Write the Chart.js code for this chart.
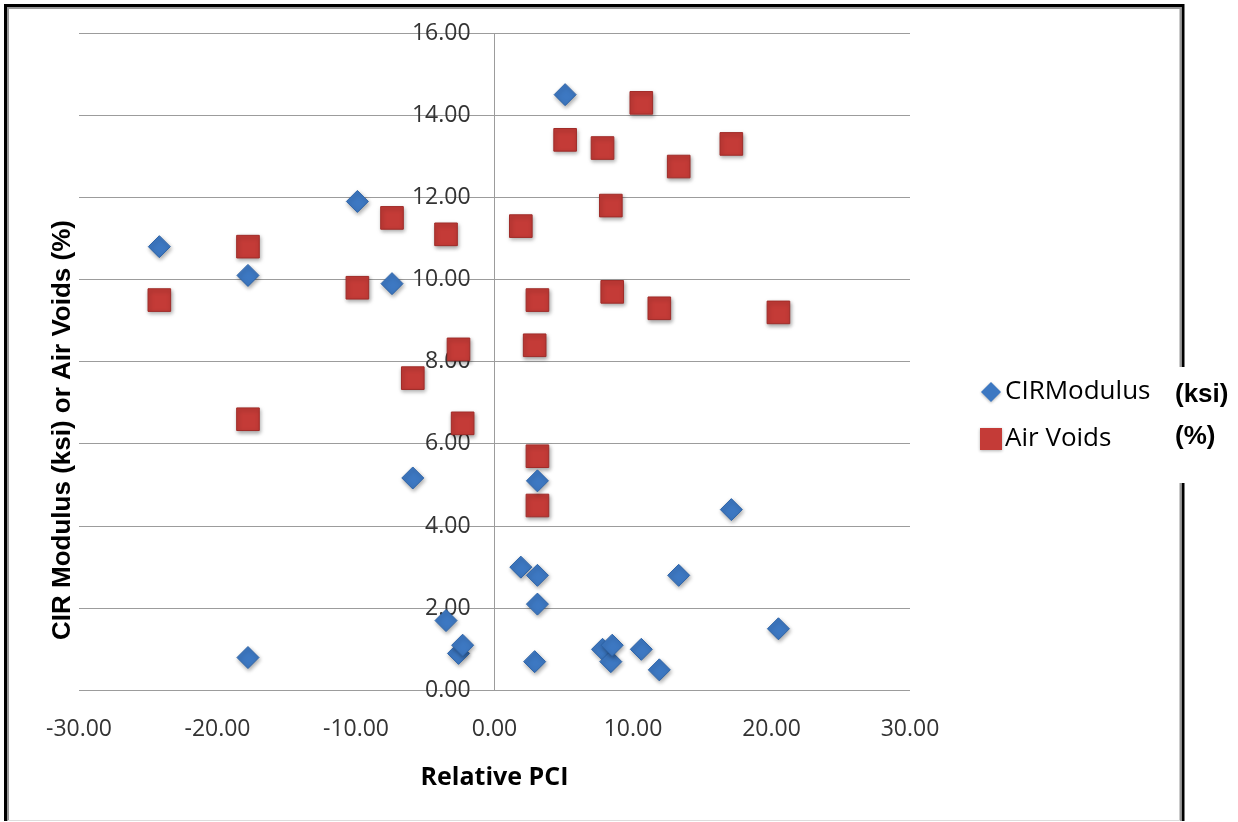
<!DOCTYPE html>
<html>
<head>
<meta charset="utf-8">
<script src="https://cdn.jsdelivr.net/npm/chart.js@4.4.1/dist/chart.umd.min.js"></script>
<style>
  body { margin: 0; background: #fff; }
  #wrap { width: 1238px; height: 822px; position: relative; }
</style>
</head>
<body>
<div id="wrap"><canvas id="pciChart"></canvas></div>
<script>
// Relative PCI (x) shared by both series
var relativePCI = [-24.2, -17.8, -17.8, -9.9, -7.4, -5.9, -3.5, -2.6, -2.3, 1.9, 2.9, 3.1, 3.1, 3.1, 5.1, 7.8, 8.4, 8.5, 10.6, 11.9, 13.3, 17.1, 20.5];
// CIR modulus (ksi)
var cirModulus = [10.8, 10.1, 0.8, 11.9, 9.9, 5.17, 1.7, 0.9, 1.1, 3.0, 0.7, 5.1, 2.8, 2.1, 14.5, 1.0, 0.7, 1.1, 1.0, 0.5, 2.8, 4.4, 1.5];
// Air voids (%)
var airVoids = [9.5, 10.8, 6.6, 9.8, 11.5, 7.6, 11.1, 8.3, 6.5, 11.3, 8.4, 9.5, 5.7, 4.5, 13.4, 13.2, 11.8, 9.7, 14.3, 9.3, 12.75, 13.3, 9.2];

var seriesNames = ["CIRModulus", "Air Voids"];
var unitLabels = ["(ksi)", "(%)"];
var xTitle = "Relative PCI";
var yTitle = "CIR Modulus (ksi) or Air Voids (%)";

function toPoints(ys) {
  return relativePCI.map(function (x, i) { return { x: x, y: ys[i] }; });
}

var blue = "#3D78C2", red = "#C43B37";

// frame, axis titles, legend and unit notes drawn on the canvas
var decorPlugin = {
  id: "decor",
  beforeDatasetsDraw: function (chart) {
    var ctx = chart.ctx;
    ctx.save();
    ctx.shadowColor = "rgba(0,0,0,0.35)";
    ctx.shadowBlur = 4;
    ctx.shadowOffsetX = 1;
    ctx.shadowOffsetY = 2;
  },
  afterDatasetsDraw: function (chart) {
    chart.ctx.restore();
  },
  afterDraw: function (chart) {
    var ctx = chart.ctx;
    var area = chart.chartArea;
    ctx.save();
    // outer frame
    ctx.strokeStyle = "#000";
    ctx.lineWidth = 3;
    ctx.beginPath();
    ctx.moveTo(5.5, 821);
    ctx.lineTo(5.5, 5.5);
    ctx.lineTo(1183, 5.5);
    ctx.lineTo(1183, 821);
    ctx.stroke();
    ctx.strokeStyle = "#999";
    ctx.lineWidth = 2;
    ctx.beginPath();
    ctx.moveTo(8, 821);
    ctx.lineTo(8, 8);
    ctx.lineTo(1180.5, 8);
    ctx.lineTo(1180.5, 821);
    ctx.stroke();
    ctx.strokeStyle = "#ddd";
    ctx.lineWidth = 1;
    ctx.beginPath();
    ctx.moveTo(8, 820.5);
    ctx.lineTo(1180, 820.5);
    ctx.stroke();

    // x title
    ctx.fillStyle = "#000";
    ctx.textAlign = "center";
    ctx.textBaseline = "middle";
    ctx.font = "bold 25px 'Open Sans', sans-serif";
    ctx.fillText(xTitle, (area.left + area.right) / 2, 778);

    // y title
    ctx.font = "bold 26px 'Liberation Sans', Arial, sans-serif";
    ctx.translate(63, 430);
    ctx.rotate(-Math.PI / 2);
    ctx.fillText(yTitle, 0, 0);
    ctx.setTransform(1, 0, 0, 1, 0, 0);

    // legend
    var lx = 991, rows = [392, 439];
    ctx.shadowColor = "rgba(0,0,0,0.3)";
    ctx.shadowBlur = 3;
    ctx.shadowOffsetY = 1;
    ctx.fillStyle = blue;
    ctx.beginPath();
    ctx.moveTo(lx, rows[0] - 10);
    ctx.lineTo(lx + 10, rows[0]);
    ctx.lineTo(lx, rows[0] + 10);
    ctx.lineTo(lx - 10, rows[0]);
    ctx.closePath();
    ctx.fill();
    ctx.fillStyle = red;
    ctx.fillRect(lx - 11, rows[1] - 11, 22, 22);
    ctx.shadowColor = "transparent";
    ctx.fillStyle = "#000";
    ctx.font = "26px 'Open Sans', sans-serif";
    ctx.textAlign = "left";
    ctx.fillText(seriesNames[0], 1005, rows[0]);
    ctx.fillText(seriesNames[1], 1005, rows[1]);

    // unit notes over the frame
    ctx.fillStyle = "#fff";
    ctx.fillRect(1168, 367, 70, 116);
    ctx.fillStyle = "#000";
    ctx.font = "bold 26px 'Liberation Sans', Arial, sans-serif";
    ctx.fillText(unitLabels[0], 1175, 395);
    ctx.fillText(unitLabels[1], 1175, 437);
    ctx.restore();
  }
};

var ctx = document.getElementById("pciChart").getContext("2d");
var pciChart = new Chart(ctx, {
  type: "scatter",
  data: {
    datasets: [{
      label: seriesNames[0],
      data: toPoints(cirModulus),
      pointStyle: "rectRot",
      pointRadius: 11,
      pointHoverRadius: 11,
      backgroundColor: blue,
      borderColor: "#2E64A8",
      borderWidth: 1
    }, {
      label: seriesNames[1],
      data: toPoints(airVoids),
      pointStyle: "rect",
      pointRadius: 16,
      pointHoverRadius: 16,
      backgroundColor: red,
      borderColor: "#A02C29",
      borderWidth: 1
    }]
  },
  options: {
    responsive: true,
    maintainAspectRatio: false,
    animation: false,
    layout: { padding: { left: 79, right: 328, top: 33, bottom: 54 } },
    plugins: {
      legend: { display: false },
      tooltip: { enabled: false }
    },
    scales: {
      x: {
        type: "linear",
        position: "bottom",
        min: -30,
        max: 30,
        ticks: {
          stepSize: 10,
          padding: 25,
          color: "#333",
          font: { family: "'Open Sans', sans-serif", size: 23 },
          callback: function (v) { return v.toFixed(2); }
        },
        grid: { display: false, drawTicks: false },
        border: { display: false }
      },
      y: {
        type: "linear",
        position: { x: 0 },
        min: 0,
        max: 16,
        ticks: {
          stepSize: 2,
          color: "#333",
          font: { family: "'Open Sans', sans-serif", size: 23 },
          // labels sit against the crossing axis; trailing spaces keep a gap
          callback: function (v) { return v.toFixed(2) + "    "; }
        },
        grid: { color: "#9c9c9c", lineWidth: 1, drawTicks: false },
        border: { display: true, color: "#9c9c9c", width: 1 }
      }
    }
  },
  plugins: [decorPlugin]
});
</script>
</body>
</html>
